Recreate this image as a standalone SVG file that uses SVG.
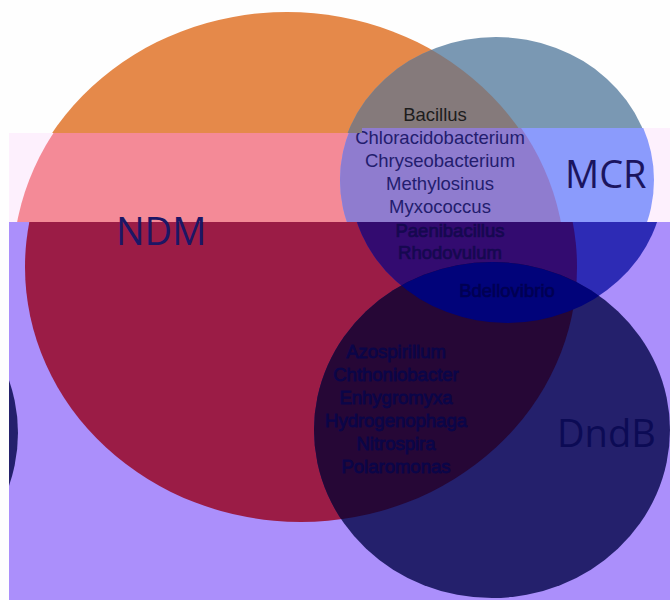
<svg xmlns="http://www.w3.org/2000/svg" width="670" height="600" viewBox="0 0 670 600">
  <defs>
    <clipPath id="sliceA"><polygon points="0,0 670,0 670,128 362,128 362,133 0,133"/></clipPath>
    <clipPath id="sliceB"><polygon points="9,133 362,133 362,128 670,128 670,222 9,222"/></clipPath>
    <clipPath id="sliceC"><rect x="9" y="222" width="661" height="378"/></clipPath>
    <clipPath id="oA"><ellipse cx="287" cy="267" rx="276" ry="255"/></clipPath>
    <clipPath id="oB"><ellipse cx="289" cy="266" rx="276" ry="255"/></clipPath>
    <clipPath id="oC"><ellipse cx="301" cy="267" rx="276" ry="255"/></clipPath>
    <clipPath id="bC"><ellipse cx="507" cy="180" rx="157" ry="143"/></clipPath>
  </defs>
  <style>
    .list { font-family: "Liberation Sans", Arial, sans-serif; font-size: 18.5px; text-anchor: middle; }
    .lbl { font-family: "Open Sans", "Noto Sans", sans-serif; font-size: 38px; }
    .tA { fill: #1d1d1d; }
    .tB { fill: #231d6e; }
    .tC { fill: #160850; stroke: #160850; stroke-width: 0.7; }
    .tCd { fill: #0b0548; stroke: #0b0548; stroke-width: 0.8; }
  </style>
  <rect x="0" y="0" width="670" height="600" fill="#fefefe"/>

  <!-- Slice A (top, original colours) -->
  <g id="slice-top" clip-path="url(#sliceA)">
    <g id="ndm-circle-top"><ellipse cx="287" cy="267" rx="276" ry="255" fill="#e5894a"/></g>
    <g id="mcr-circle-top"><ellipse cx="496" cy="180" rx="157" ry="143" fill="#7a98b3"/></g>
    <g id="ndm-mcr-top"><ellipse cx="496" cy="180" rx="157" ry="143" fill="#857a7b" clip-path="url(#oA)"/></g>
    <text class="list tA" x="435" y="121">Bacillus</text>
  </g>

  <!-- Slice B (middle band) -->
  <g id="slice-middle" clip-path="url(#sliceB)">
    <rect x="0" y="128" width="670" height="94" fill="#fdf0fd"/>
    <g id="ndm-circle-mid"><ellipse cx="289" cy="266" rx="276" ry="255" fill="#f48a97"/></g>
    <g id="mcr-circle-mid"><ellipse cx="497" cy="180" rx="157" ry="143" fill="#8b9bfc"/></g>
    <g id="ndm-mcr-mid"><ellipse cx="497" cy="180" rx="157" ry="143" fill="#8f7ccf" clip-path="url(#oB)"/></g>
    <g id="ndm-mcr-list-mid">
      <text class="list tB" x="440" y="144">Chloracidobacterium</text>
      <text class="list tB" x="440" y="167">Chryseobacterium</text>
      <text class="list tB" x="440" y="190">Methylosinus</text>
      <text class="list tB" x="440" y="213">Myxococcus</text>
    </g>
    <text class="lbl" x="565" y="188" fill="#1b155f">MCR</text>
  </g>

  <!-- Slice C (lower band) -->
  <g id="slice-bottom" clip-path="url(#sliceC)">
    <rect x="0" y="222" width="670" height="378" fill="#ab8ffb"/>
    <g id="ndm-circle"><ellipse cx="301" cy="267" rx="276" ry="255" fill="#9b1c46"/></g>
    <g id="mcr-circle"><ellipse cx="507" cy="180" rx="157" ry="143" fill="#2d2bb5"/></g>
    <g id="dndb-circle"><ellipse cx="492" cy="430" rx="178" ry="168" fill="#24206c"/></g>
    <g id="left-circle"><ellipse cx="-160" cy="433" rx="178" ry="168" fill="#24206c"/></g>
    <g id="ndm-mcr"><ellipse cx="507" cy="180" rx="157" ry="143" fill="#330b70" clip-path="url(#oC)"/></g>
    <g id="ndm-dndb"><ellipse cx="492" cy="430" rx="178" ry="168" fill="#260736" clip-path="url(#oC)"/></g>
    <g id="mcr-dndb"><ellipse cx="492" cy="430" rx="178" ry="168" fill="#01037a" clip-path="url(#bC)"/></g>
    <g id="ndm-mcr-list">
      <text class="list tC" x="450" y="237">Paenibacillus</text>
      <text class="list tC" x="450" y="259">Rhodovulum</text>
    </g>
    <text class="list" x="507" y="297" fill="#000052" stroke="#000052" stroke-width="0.6">Bdellovibrio</text>
    <g id="ndm-dndb-list">
      <text class="list tCd" x="396" y="358">Azospirillum</text>
      <text class="list tCd" x="396" y="381">Chthoniobacter</text>
      <text class="list tCd" x="396" y="404">Enhygromyxa</text>
      <text class="list tCd" x="396" y="427">Hydrogenophaga</text>
      <text class="list tCd" x="396" y="450">Nitrospira</text>
      <text class="list tCd" x="396" y="473">Polaromonas</text>
    </g>
    <text class="lbl" x="557" y="447" fill="#0c0b55">DndB</text>
  </g>
  <text id="ndm-label" class="lbl" x="116" y="245" fill="#1c1665">NDM</text>
</svg>
